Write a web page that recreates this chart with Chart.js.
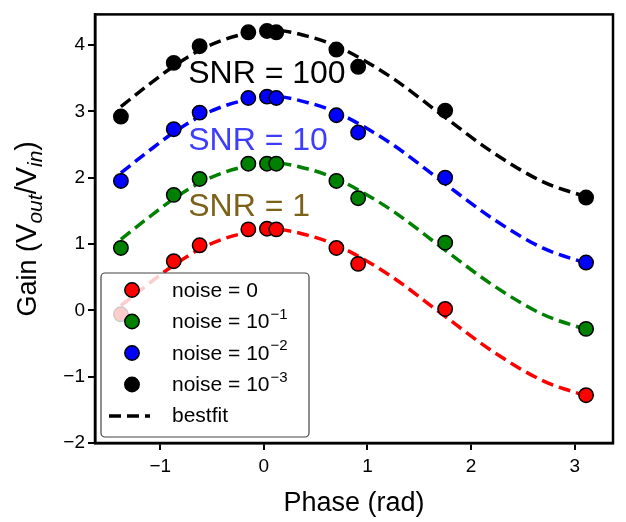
<!DOCTYPE html>
<html>
<head>
<meta charset="utf-8">
<script src="https://cdn.jsdelivr.net/npm/chart.js@4.4.0/dist/chart.umd.min.js"></script>
<style>
  html, body { margin: 0; padding: 0; background: #fff; }
</style>
</head>
<body>
<canvas id="gainChart" width="626" height="522"></canvas>
<script>
// measured phase points (rad)
const phase = [-1.38, -0.87, -0.62, -0.15, 0.03, 0.12, 0.70, 0.91, 1.75, 3.11];
// gain for each noise level
const gainNoise0 = [-0.06, 0.74, 0.98, 1.22, 1.23, 1.22, 0.94, 0.70, 0.02, -1.28];
const gainNoise1 = [0.94, 1.74, 1.98, 2.21, 2.21, 2.21, 1.95, 1.69, 1.02, -0.28];
const gainNoise2 = [1.95, 2.73, 2.98, 3.20, 3.22, 3.20, 2.94, 2.68, 2.00, 0.72];
const gainNoise3 = [2.92, 3.73, 3.98, 4.19, 4.21, 4.19, 3.93, 3.67, 3.01, 1.70];

// best fit curves
const fitPhase = [-1.38, -1.12, -0.87, -0.62, -0.40, -0.17, 0.10, 0.45, 0.69, 0.94, 1.26, 1.73, 2.21, 2.69, 3.11];
const fitNoise0 = [0.07, 0.39, 0.68, 0.92, 1.07, 1.17, 1.22, 1.12, 0.99, 0.79, 0.48, -0.07, -0.62, -1.06, -1.29];
const fitNoise1 = [1.07, 1.39, 1.68, 1.92, 2.07, 2.17, 2.22, 2.12, 1.99, 1.79, 1.48, 0.93, 0.38, -0.06, -0.29];
const fitNoise2 = [2.07, 2.39, 2.68, 2.92, 3.07, 3.17, 3.22, 3.12, 2.99, 2.79, 2.48, 1.93, 1.38, 0.94, 0.71];
const fitNoise3 = [3.07, 3.39, 3.68, 3.92, 4.07, 4.17, 4.22, 4.12, 3.99, 3.79, 3.48, 2.93, 2.38, 1.94, 1.71];

const noiseLabels = ['noise = 0', 'noise = 10', 'noise = 10', 'noise = 10'];
const noiseExponents = ['', '\u22121', '\u22122', '\u22123'];
const snrLabels = ['SNR = 1', 'SNR = 10', 'SNR = 100'];
const xTicks = [-1, 0, 1, 2, 3];
const yTicks = [-2, -1, 0, 1, 2, 3, 4];

const colors = ['#ff0000', '#008000', '#0000ff', '#000000'];
const FONT = '"Liberation Sans", Arial, Helvetica, sans-serif';

function toXY(xs, ys) {
    return xs.map((x, i) => ({ x: x, y: ys[i] }));
}

const pointSets = [gainNoise0, gainNoise1, gainNoise2, gainNoise3];
const fitSets = [fitNoise0, fitNoise1, fitNoise2, fitNoise3];

const datasets = [];
// points first so they end up drawn on top of the dashed lines
pointSets.forEach((ys, i) => {
    datasets.push({
        label: noiseLabels[i] + noiseExponents[i],
        data: toXY(phase, ys),
        showLine: false,
        pointRadius: 7.2,
        pointBackgroundColor: colors[i],
        pointBorderColor: '#000',
        pointBorderWidth: 1.5
    });
});
fitSets.forEach((ys, i) => {
    datasets.push({
        label: 'bestfit',
        data: toXY(fitPhase, ys),
        showLine: true,
        pointRadius: 0,
        borderColor: colors[i],
        borderWidth: 3.5,
        borderDash: [12, 6],
        cubicInterpolationMode: 'monotone',
        fill: false
    });
});

// frame, axis titles, SNR texts and the legend box
const decorations = {
    id: 'decorations',
    afterDatasetsDraw(chart) {
        const ctx = chart.ctx;
        const a = chart.chartArea;
        const xs = chart.scales.x, ys = chart.scales.y;
        ctx.save();

        // SNR annotations
        const snrColors = ['rgba(110,80,0,0.9)', 'rgba(40,40,255,0.9)', '#000'];
        const snrY = [1.42, 2.42, 3.42];
        ctx.font = '32px ' + FONT;
        ctx.textAlign = 'left';
        ctx.textBaseline = 'alphabetic';
        snrLabels.forEach((t, i) => {
            ctx.fillStyle = snrColors[i];
            ctx.fillText(t, xs.getPixelForValue(-0.73), ys.getPixelForValue(snrY[i]));
        });

        // legend
        const bx = 101, by = 273, bw = 208, bh = 164;
        ctx.beginPath();
        ctx.roundRect(bx, by, bw, bh, 4);
        ctx.fillStyle = 'rgba(255,255,255,0.8)';
        ctx.fill();
        ctx.lineWidth = 1.2;
        ctx.strokeStyle = '#444';
        ctx.stroke();

        const rowY = [290, 321.5, 353, 384.5];
        ctx.textBaseline = 'middle';
        rowY.forEach((ry, i) => {
            ctx.beginPath();
            ctx.arc(132, ry, 7.2, 0, Math.PI * 2);
            ctx.fillStyle = colors[i];
            ctx.fill();
            ctx.lineWidth = 1.5;
            ctx.strokeStyle = '#000';
            ctx.stroke();
            ctx.fillStyle = '#000';
            ctx.font = '21px ' + FONT;
            ctx.fillText(noiseLabels[i], 172, ry + 1);
            if (noiseExponents[i]) {
                const w = ctx.measureText(noiseLabels[i]).width;
                ctx.font = '15px ' + FONT;
                ctx.fillText(noiseExponents[i], 172 + w + 1, ry - 7);
            }
        });
        ctx.beginPath();
        ctx.setLineDash([12, 6]);
        ctx.moveTo(109, 416);
        ctx.lineTo(150, 416);
        ctx.lineWidth = 3.5;
        ctx.strokeStyle = '#000';
        ctx.stroke();
        ctx.setLineDash([]);
        ctx.font = '21px ' + FONT;
        ctx.fillStyle = '#000';
        ctx.fillText('bestfit', 172, 416);

        // frame
        ctx.lineWidth = 2.5;
        ctx.strokeStyle = '#000';
        ctx.strokeRect(a.left, a.top, a.right - a.left, a.bottom - a.top);

        // x title
        ctx.font = '27px ' + FONT;
        ctx.textAlign = 'center';
        ctx.textBaseline = 'alphabetic';
        ctx.fillText('Phase (rad)', (a.left + a.right) / 2, 511);

        // y title with subscripts
        const parts = [
            ['Gain (', 'n'], ['V', 'm'], ['out', 's'], ['/V', 'm'], ['in', 's'], [')', 'm']
        ];
        const fonts = { n: '27px ' + FONT, m: '29px ' + FONT, s: 'italic 21px ' + FONT };
        let total = 0;
        parts.forEach(p => { ctx.font = fonts[p[1]]; total += ctx.measureText(p[0]).width; });
        ctx.translate(36, (a.top + a.bottom) / 2);
        ctx.rotate(-Math.PI / 2);
        ctx.textAlign = 'left';
        let cx = -total / 2;
        parts.forEach(p => {
            ctx.font = fonts[p[1]];
            ctx.fillText(p[0], cx, p[1] === 's' ? 6 : 0);
            cx += ctx.measureText(p[0]).width;
        });
        ctx.restore();
    }
};

const minusFmt = v => String(v).replace('-', '\u2212');

new Chart(document.getElementById('gainChart').getContext('2d'), {
    type: 'scatter',
    data: { datasets: datasets },
    options: {
        responsive: false,
        animation: false,
        devicePixelRatio: 1,
        layout: { padding: { top: 4, right: 13, left: 0, bottom: 0 } },
        plugins: {
            legend: { display: false },
            tooltip: { enabled: false }
        },
        scales: {
            x: {
                type: 'linear',
                min: -1.63,
                max: 3.37,
                afterFit: s => { s.height = 79; },
                afterBuildTicks: s => { s.ticks = xTicks.map(v => ({ value: v })); },
                grid: { drawOnChartArea: false, drawTicks: true, tickLength: 7, color: '#000', lineWidth: 2 },
                border: { display: true, color: '#000', width: 2.5 },
                ticks: { color: '#000', font: { size: 19, family: FONT }, padding: 5, callback: minusFmt }
            },
            y: {
                type: 'linear',
                min: -2,
                max: 4.46,
                afterFit: s => { s.width = 95; },
                afterBuildTicks: s => { s.ticks = yTicks.map(v => ({ value: v })); },
                grid: { drawOnChartArea: false, drawTicks: true, tickLength: 7, color: '#000', lineWidth: 2 },
                border: { display: true, color: '#000', width: 2.5 },
                ticks: { color: '#000', font: { size: 19, family: FONT }, padding: 3, callback: minusFmt }
            }
        }
    },
    plugins: [decorations]
});
</script>
</body>
</html>
